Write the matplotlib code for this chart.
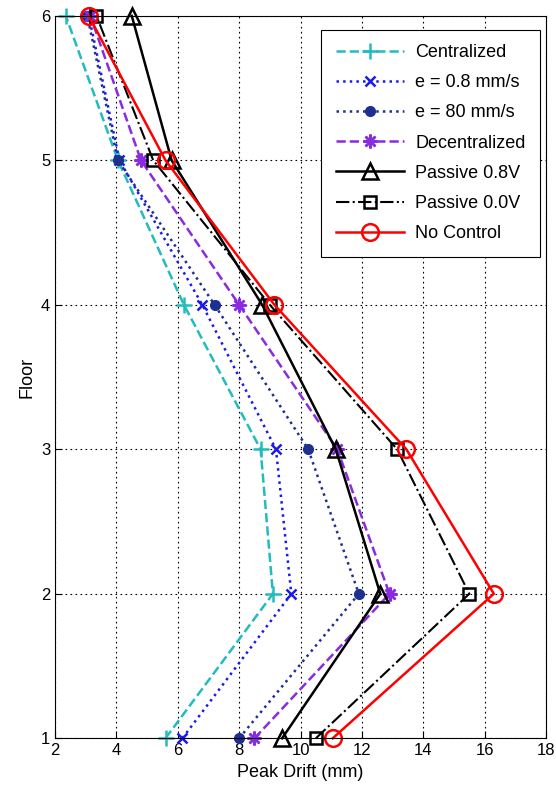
import matplotlib
matplotlib.use('Agg')
import matplotlib.pyplot as plt

plt.rcParams['font.family'] = ['Liberation Sans', 'DejaVu Sans']

floors = [1, 2, 3, 4, 5, 6]
centralized = [5.6, 9.1, 8.7, 6.2, 4.05, 2.35]
e_08 = [6.15, 9.7, 9.2, 6.8, 4.1, 3.1]
e_80 = [8.0, 11.9, 10.25, 7.2, 4.05, 3.05]
decentralized = [8.5, 12.9, 11.2, 8.0, 4.8, 3.15]
passive_08 = [9.4, 12.6, 11.15, 8.75, 5.8, 4.5]
passive_00 = [10.5, 15.5, 13.15, 9.0, 5.2, 3.35]
no_control = [11.05, 16.3, 13.45, 9.15, 5.6, 3.1]

fig = plt.figure(figsize=(5.56, 7.93), dpi=100)
ax = fig.add_axes([0.099, 0.069, 0.883, 0.911])

ax.plot(centralized, floors, '--', color='#22bcbc', marker='+', ms=12, mew=1.8, lw=1.8, label='Centralized', clip_on=False)
ax.plot(e_08, floors, ':', color='#1a1aee', marker='x', ms=7, mew=1.8, lw=1.8, label='e = 0.8 mm/s', clip_on=False)
ax.plot(e_80, floors, ':', color='#1f2f8f', marker='o', ms=7, lw=1.8, label='e = 80 mm/s', clip_on=False)
ax.plot(decentralized, floors, '--', color='#8a2be2', marker=(8, 2, 0), ms=10, mew=1.8, lw=1.8, label='Decentralized', clip_on=False)
ax.plot(passive_08, floors, '-', color='black', marker='^', ms=12, mfc='none', mew=1.8, lw=1.8, label='Passive 0.8V', clip_on=False)
ax.plot(passive_00, floors, '-.', color='black', marker='s', ms=9, mfc='none', mew=1.8, lw=1.5, label='Passive 0.0V', clip_on=False)
ax.plot(no_control, floors, '-', color='red', marker='o', ms=12, mfc='none', mew=1.8, lw=1.8, label='No Control', clip_on=False)

ax.set_xlim(2, 18)
ax.set_ylim(1, 6)
ax.set_xticks(range(2, 19, 2))
ax.set_yticks(floors)
ax.tick_params(labelsize=12, direction='in', length=5)
ax.grid(True, color='black', linestyle=(0, (1.5, 3)), lw=0.8)
ax.set_xlabel('Peak Drift (mm)', fontsize=13)
ax.set_ylabel('Floor', fontsize=13)

leg = ax.legend(loc='upper right', bbox_to_anchor=(0.988, 0.981), borderaxespad=0,
                fontsize=13, fancybox=False, framealpha=1, edgecolor='black',
                handlelength=3.8, handletextpad=0.6, borderpad=0.8, labelspacing=0.73)
leg.get_frame().set_linewidth(0.8)

fig.savefig('out.png', dpi=100)
